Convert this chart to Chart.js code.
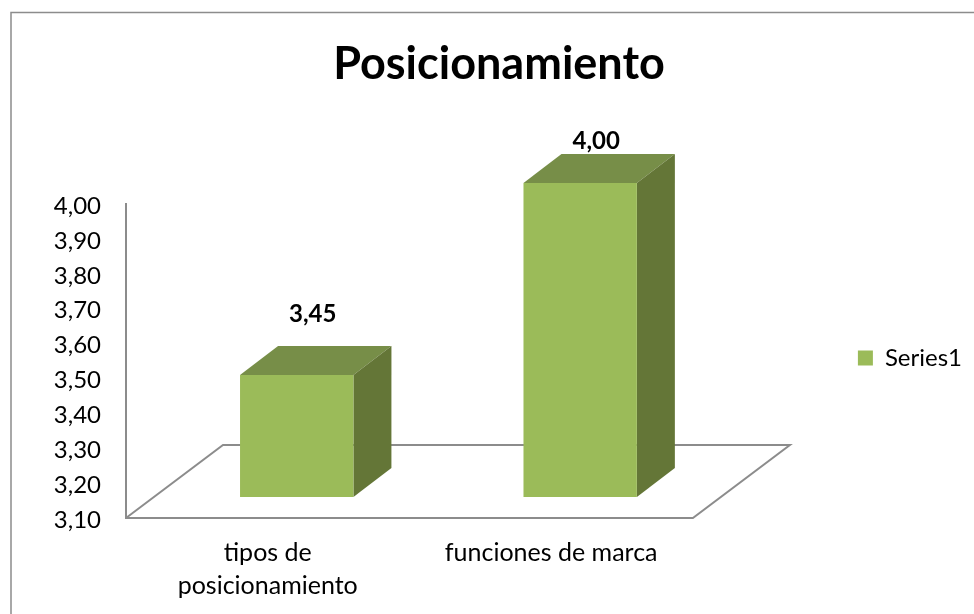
<!DOCTYPE html>
<html>
<head>
<meta charset="utf-8">
<script src="https://cdn.jsdelivr.net/npm/chart.js@4"></script>
<style>
  html, body { margin: 0; padding: 0; background: #fff; overflow: hidden; }
  #box { position: absolute; left: 0; top: 0; width: 974px; height: 614px; }
</style>
</head>
<body>
<div id="box"><canvas id="chart" width="974" height="614"></canvas></div>
<script>
const categories = [["tipos de", "posicionamiento"], "funciones de marca"];
const seriesName = "Series1";
const seriesValues = [3.45, 4.0];
const tickMin = 3.1;
const tickMax = 4.0;
const tickStep = 0.1;

const FONT = "Lato, 'Open Sans', sans-serif";
const LINE = "#8c8c8c";
const FRONT = "#9bbb59";
const TOP = "#778e48";
const SIDE = "#647637";

// Lato's digits ride high, so the plot is drawn this far above the y scale
const plotDy = -2;
// fake 3D: floor depth, and where the bars' front plane sits on that floor
const floorDx = 97, floorDy = -73;
const barDx = 29, barDy = -21 + plotDy;
const depthDx = 38, depthDy = -29;
// how far each value label sits above the back edge of its bar
const labelLift = [32, 13];

function comma(v) {
  return v.toFixed(2).replace(".", ",");
}

function poly(ctx, pts, fill) {
  ctx.beginPath();
  pts.forEach((p, i) => (i ? ctx.lineTo(p[0], p[1]) : ctx.moveTo(p[0], p[1])));
  ctx.closePath();
  ctx.fillStyle = fill;
  ctx.fill();
}

const frame3d = {
  id: "frame3d",
  beforeDraw(chart) {
    const { ctx, chartArea: a } = chart;
    const top = a.top + plotDy, bottom = a.bottom + plotDy;
    ctx.save();
    ctx.fillStyle = "#fff";
    ctx.fillRect(0, 0, chart.width, chart.height);
    ctx.strokeStyle = LINE;
    ctx.lineWidth = 1.5;
    // outer chart border
    ctx.beginPath();
    ctx.moveTo(11, chart.height);
    ctx.lineTo(11, 12.5);
    ctx.lineTo(chart.width, 12.5);
    ctx.stroke();
    // wall edge + floor
    ctx.lineWidth = 2;
    ctx.beginPath();
    ctx.moveTo(a.left, top - 1);
    ctx.lineTo(a.left, bottom);
    ctx.lineTo(a.right, bottom);
    ctx.lineTo(a.right + floorDx, bottom + floorDy);
    ctx.lineTo(a.left + floorDx, bottom + floorDy);
    ctx.lineTo(a.left, bottom);
    ctx.stroke();
    ctx.restore();
  },
  beforeDatasetDraw(chart) {
    const ctx = chart.ctx;
    ctx.save();
    chart.getDatasetMeta(0).data.forEach((bar) => {
      const half = bar.width / 2;
      const l = bar.x - half + barDx, r = bar.x + half + barDx;
      const t = bar.y + barDy, b = bar.base + barDy;
      poly(ctx, [[l, t], [r, t], [r + depthDx, t + depthDy], [l + depthDx, t + depthDy]], TOP);
      poly(ctx, [[r, t], [r + depthDx, t + depthDy], [r + depthDx, b + depthDy], [r, b]], SIDE);
    });
    ctx.translate(barDx, barDy);
  },
  afterDatasetDraw(chart) {
    chart.ctx.restore();
  },
  afterDatasetsDraw(chart) {
    const ctx = chart.ctx;
    ctx.save();
    ctx.font = "bold 24px " + FONT;
    ctx.fillStyle = "#000";
    ctx.textAlign = "center";
    ctx.textBaseline = "middle";
    chart.getDatasetMeta(0).data.forEach((bar, i) => {
      ctx.fillText(comma(seriesValues[i]), bar.x + barDx + 16, bar.y + barDy + depthDy - labelLift[i]);
    });
    ctx.restore();
  }
};

new Chart(document.getElementById("chart"), {
  type: "bar",
  data: {
    labels: categories,
    datasets: [{
      label: seriesName,
      data: seriesValues,
      base: tickMin,
      backgroundColor: FRONT,
      borderWidth: 0,
      categoryPercentage: 0.8,
      barPercentage: 0.5,
      clip: false
    }]
  },
  options: {
    responsive: false,
    animation: false,
    layout: { padding: { left: 26, right: 2 } },
    plugins: {
      title: {
        display: true,
        text: "Posicionamiento",
        color: "#000",
        font: { family: FONT, size: 45, weight: "bold" },
        padding: { top: 37, bottom: 115 }
      },
      legend: {
        position: "right",
        fullSize: false,
        maxWidth: 300,
        // blank title with negative padding, only to lift the legend a few px
        title: { display: true, text: " ", font: { size: 1, lineHeight: 1 }, padding: { top: 0, bottom: -11 } },
        labels: {
          color: "#000",
          font: { family: FONT, size: 24 },
          boxWidth: 15,
          boxHeight: 15,
          padding: 165
        }
      },
      tooltip: { enabled: false }
    },
    scales: {
      x: {
        afterFit(scale) { scale.height = 94; },
        grid: { display: false, drawTicks: false },
        border: { display: false },
        ticks: { color: "#000", font: { family: FONT, size: 25, lineHeight: 1.32 }, maxRotation: 0, autoSkip: false, padding: 16 }
      },
      y: {
        min: tickMin,
        max: tickMax,
        afterFit(scale) { scale.width = 100; },
        grid: { display: false, drawTicks: false },
        border: { display: false },
        ticks: { stepSize: tickStep, color: "#000", font: { family: FONT, size: 24 }, padding: 25, callback: (v) => comma(v) }
      }
    }
  },
  plugins: [frame3d]
});
</script>
</body>
</html>
